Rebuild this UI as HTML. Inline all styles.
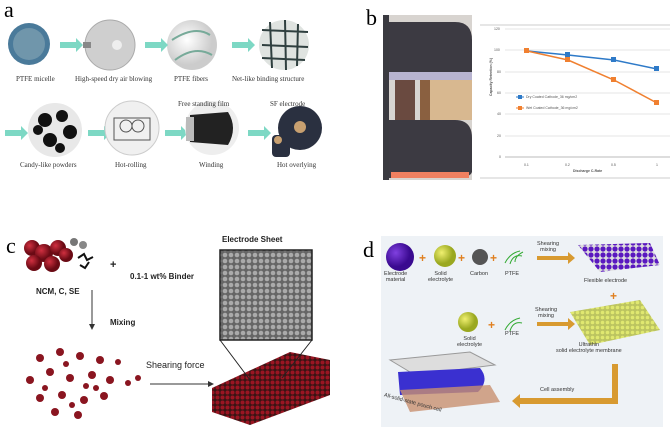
<!DOCTYPE html>
<html><head><meta charset="utf-8"><style>
body{margin:0;width:670px;height:428px;background:#fff;position:relative;overflow:hidden;font-family:"Liberation Serif",serif}
.t{position:absolute;white-space:nowrap}
.s{font-family:"Liberation Sans",sans-serif}
</style></head><body>
<svg width="670" height="428" style="position:absolute;left:0;top:0">
<defs>
<radialGradient id="rg" cx="35%" cy="35%"><stop offset="0" stop-color="#d03040"/><stop offset="1" stop-color="#6a0a14"/></radialGradient>
<radialGradient id="gg" cx="35%" cy="35%"><stop offset="0" stop-color="#f0f070"/><stop offset="1" stop-color="#9aa820"/></radialGradient>
<radialGradient id="pg" cx="35%" cy="35%"><stop offset="0" stop-color="#8040e0"/><stop offset="1" stop-color="#3a0a90"/></radialGradient>
<radialGradient id="cg" cx="40%" cy="40%"><stop offset="0" stop-color="#fff"/><stop offset="1" stop-color="#ccc"/></radialGradient>
<pattern id="sem" width="6" height="6" patternUnits="userSpaceOnUse"><rect width="6" height="6" fill="#666"/><circle cx="3" cy="3" r="2.3" fill="#aaa"/></pattern>
<pattern id="redp" width="5" height="5" patternUnits="userSpaceOnUse"><rect width="5" height="5" fill="#3a1414"/><circle cx="2.5" cy="2.5" r="2" fill="#9a1522"/></pattern>
<pattern id="purp" width="6" height="6" patternUnits="userSpaceOnUse"><rect width="6" height="6" fill="#ddd"/><circle cx="3" cy="3" r="2.6" fill="#5a18c0"/></pattern>
<pattern id="yelp" width="5" height="5" patternUnits="userSpaceOnUse"><rect width="5" height="5" fill="#bcc460"/><circle cx="2.5" cy="2.5" r="1.8" fill="#e0e870"/></pattern>
</defs>
<circle cx="29" cy="44" r="21" fill="#4a7a9a"/><circle cx="29" cy="44" r="16" fill="#8aa8b8" opacity=".6"/>
<circle cx="110" cy="45" r="25" fill="#cfcfcf" stroke="#aaa"/><circle cx="117" cy="45" r="5" fill="#eee"/><rect x="83" y="42" width="8" height="6" fill="#888"/>
<circle cx="192" cy="45" r="25" fill="url(#cg)"/><path d="M172 40 Q195 25 210 35 M175 60 Q195 45 212 55" stroke="#7a9" stroke-width="2" fill="none"/>
<circle cx="284" cy="45" r="25" fill="#dfe3e0"/><path d="M262 30 L308 32 M262 45 L308 47 M262 58 L305 60 M270 22 L272 68 M285 20 L286 70 M298 24 L297 66" stroke="#2f3f3f" stroke-width="2"/>
<g fill="#7dd8c4"><path d="M60 42h16v-4l7 7-7 7v-4H60z"/><path d="M145 42h16v-4l7 7-7 7v-4h-16z"/><path d="M232 42h16v-4l7 7-7 7v-4h-16z"/>
<path d="M5 130h16v-4l7 7-7 7v-4H5z"/><path d="M88 130h16v-4l7 7-7 7v-4H88z"/><path d="M165 130h16v-4l7 7-7 7v-4h-16z"/><path d="M248 130h16v-4l7 7-7 7v-4h-16z"/></g>
<circle cx="55" cy="130" r="27" fill="#e8e8e8"/><g fill="#111"><circle cx="45" cy="120" r="7"/><circle cx="62" cy="116" r="6"/><circle cx="70" cy="132" r="7"/><circle cx="50" cy="140" r="7"/><circle cx="38" cy="130" r="5"/><circle cx="60" cy="148" r="5"/></g>
<circle cx="132" cy="128" r="27" fill="#f0f0f0" stroke="#ccc"/><rect x="114" y="118" width="36" height="22" fill="none" stroke="#555"/><circle cx="126" cy="126" r="6" fill="none" stroke="#555"/><circle cx="138" cy="126" r="6" fill="none" stroke="#555"/>
<circle cx="212" cy="128" r="27" fill="#eee"/><path d="M190 115 L228 112 Q238 128 228 145 L190 142 Z" fill="#222"/><rect x="186" y="117" width="8" height="24" fill="#bbb"/>
<ellipse cx="300" cy="128" rx="22" ry="22" fill="#2a3040"/><circle cx="300" cy="127" r="6" fill="#c8a070"/><rect x="272" y="135" width="18" height="22" rx="4" fill="#2a3040"/><circle cx="278" cy="140" r="4" fill="#c8a070"/>
<rect x="383" y="15" width="89" height="165" fill="#d8d4d0"/>
<rect x="383" y="15" width="6" height="165" fill="#3a3a40"/>
<path d="M389 22 H455 Q472 22 472 40 V72 H389 Z" fill="#3c3a42"/>
<rect x="389" y="72" width="83" height="8" fill="#b8b4d0"/>
<rect x="395" y="80" width="20" height="40" fill="#6a4a40"/><rect x="420" y="80" width="10" height="40" fill="#8a6040"/><rect x="430" y="80" width="42" height="40" fill="#d8b890"/>
<path d="M389 120 H455 Q472 120 472 138 V172 Q470 178 455 178 H389 Z" fill="#3c3a42"/>
<rect x="391" y="172" width="78" height="6" fill="#f08060"/>
<line x1="480" y1="25" x2="670" y2="25" stroke="#ccc"/><line x1="480" y1="178" x2="670" y2="178" stroke="#ccc"/>
<g stroke="#e4e4e4"><line x1="505" y1="29" x2="670" y2="29"/><line x1="505" y1="50" x2="670" y2="50"/><line x1="505" y1="72" x2="670" y2="72"/><line x1="505" y1="93" x2="670" y2="93"/><line x1="505" y1="114" x2="670" y2="114"/><line x1="505" y1="136" x2="670" y2="136"/></g>
<line x1="505" y1="157" x2="670" y2="157" stroke="#bbb"/>
<polyline points="527,51 568,55 614,60 657,69" fill="none" stroke="#2e7ac8" stroke-width="1.5"/>
<polyline points="527,51 568,60 614,80 657,103" fill="none" stroke="#f08030" stroke-width="1.5"/>
<g fill="#2e7ac8"><rect x="565" y="52" width="5" height="5"/><rect x="611" y="57" width="5" height="5"/><rect x="654" y="66" width="5" height="5"/></g>
<g fill="#f08030"><rect x="524" y="48" width="5" height="5"/><rect x="565" y="57" width="5" height="5"/><rect x="611" y="77" width="5" height="5"/><rect x="654" y="100" width="5" height="5"/></g>
<line x1="516" y1="97" x2="524" y2="97" stroke="#2e7ac8"/><rect x="518" y="95" width="4" height="4" fill="#2e7ac8"/>
<line x1="516" y1="108" x2="524" y2="108" stroke="#f08030"/><rect x="518" y="106" width="4" height="4" fill="#f08030"/>
<g fill="url(#rg)"><circle cx="32" cy="248" r="8"/><circle cx="44" cy="253" r="9"/><circle cx="58" cy="248" r="8"/><circle cx="66" cy="255" r="7"/><circle cx="34" cy="263" r="8"/><circle cx="52" cy="264" r="8"/></g>
<circle cx="74" cy="242" r="4" fill="#777"/><circle cx="83" cy="245" r="4" fill="#888"/>
<path d="M78 258 l6 -4 l3 6 l6 -3 M80 265 l5 3 l4 -6" stroke="#111" stroke-width="2" fill="none"/>
<line x1="92" y1="290" x2="92" y2="328" stroke="#333"/><path d="M89 324 L92 330 L95 324" fill="#333"/>
<g fill="#8a1520"><circle cx="40" cy="358" r="4"/><circle cx="60" cy="352" r="4"/><circle cx="80" cy="356" r="4"/><circle cx="100" cy="360" r="4"/><circle cx="30" cy="380" r="4"/><circle cx="50" cy="372" r="4"/><circle cx="70" cy="378" r="4"/><circle cx="92" cy="375" r="4"/><circle cx="110" cy="380" r="4"/><circle cx="40" cy="398" r="4"/><circle cx="62" cy="395" r="4"/><circle cx="84" cy="400" r="4"/><circle cx="104" cy="396" r="4"/><circle cx="55" cy="412" r="4"/><circle cx="78" cy="415" r="4"/><circle cx="128" cy="383" r="3"/><circle cx="138" cy="378" r="3"/><circle cx="45" cy="388" r="3"/><circle cx="118" cy="362" r="3"/><circle cx="96" cy="388" r="3"/><circle cx="66" cy="364" r="3"/><circle cx="86" cy="386" r="3"/><circle cx="72" cy="405" r="3"/></g>
<line x1="150" y1="384" x2="210" y2="384" stroke="#333"/><path d="M208 381 L214 384 L208 387" fill="#333"/>
<rect x="220" y="250" width="92" height="90" fill="url(#sem)" stroke="#222" stroke-width="1.5"/>
<path d="M212 388 L290 352 L330 360 L330 395 L250 425 L212 412 Z" fill="url(#redp)"/>
<path d="M220 340 L250 380 M312 340 L282 378" stroke="#222"/>
<rect x="381" y="236" width="282" height="191" fill="#eef2f6"/>
<circle cx="400" cy="257" r="14" fill="url(#pg)"/>
<circle cx="445" cy="256" r="11" fill="url(#gg)"/>
<circle cx="480" cy="257" r="8" fill="#555"/>
<path d="M505 263 q5 -10 15 -12 M510 264 q3 -10 12 -8 M515 262 q0 -6 8 -10" stroke="#3a3" fill="none"/>
<g fill="#e08020" font-family="Liberation Sans" font-size="12" font-weight="bold"><text x="419" y="262">+</text><text x="458" y="262">+</text><text x="490" y="262">+</text><text x="488" y="329">+</text><text x="610" y="300">+</text></g>
<path d="M537 256 H568 v-4 l7 6 -7 6 v-4 H537 Z" fill="#d89a30"/>
<path d="M537 322 H568 v-4 l7 6 -7 6 v-4 H537 Z" fill="#d89a30"/>
<path d="M578 245 L650 243 L660 265 L600 272 Z" fill="url(#purp)"/>
<path d="M570 312 L640 300 L660 330 L590 345 Z" fill="url(#yelp)"/>
<circle cx="468" cy="322" r="10" fill="url(#gg)"/>
<path d="M505 330 q5 -10 15 -12 M510 331 q3 -10 12 -8" stroke="#3a3" fill="none"/>
<path d="M612 364 V398 H520 v-4 l-8 7 8 7 v-4 H618 V364 Z" fill="#d89a30"/>
<path d="M390 360 L470 352 L495 365 L415 375 Z" fill="#ddd" stroke="#999"/>
<path d="M398 372 L480 368 Q490 380 478 392 L400 395 Z" fill="#3a30d0"/>
<path d="M400 390 L490 385 L500 402 L410 412 Z" fill="#c89070" opacity=".8"/>
</svg>
<div class="t" style="left:4px;top:-3px;font-size:22px">a</div>
<div class="t" style="left:366px;top:5px;font-size:22px">b</div>
<div class="t" style="left:6px;top:233px;font-size:22px">c</div>
<div class="t" style="left:363px;top:237px;font-size:22px">d</div>
<div style="font-size:7px;color:#333">
<div class="t" style="left:16px;top:75px">PTFE micelle</div>
<div class="t" style="left:75px;top:75px">High-speed dry air blowing</div>
<div class="t" style="left:174px;top:75px">PTFE fibers</div>
<div class="t" style="left:232px;top:75px">Net-like binding structure</div>
<div class="t" style="left:178px;top:100px">Free standing film</div>
<div class="t" style="left:270px;top:100px">SF electrode</div>
<div class="t" style="left:20px;top:161px">Candy-like powders</div>
<div class="t" style="left:115px;top:161px">Hot-rolling</div>
<div class="t" style="left:199px;top:161px">Winding</div>
<div class="t" style="left:277px;top:161px">Hot overlying</div>
</div>
<div class="s" style="font-size:3.5px;color:#555">
<div class="t" style="left:494px;top:27px">120</div><div class="t" style="left:494px;top:48px">100</div><div class="t" style="left:497px;top:70px">80</div><div class="t" style="left:497px;top:91px">60</div><div class="t" style="left:497px;top:112px">40</div><div class="t" style="left:497px;top:134px">20</div><div class="t" style="left:499px;top:155px">0</div>
<div class="t" style="left:524px;top:163px">0.1</div><div class="t" style="left:565px;top:163px">0.2</div><div class="t" style="left:611px;top:163px">0.5</div><div class="t" style="left:656px;top:163px">1</div>
<div class="t" style="left:573px;top:169px;font-weight:bold">Discharge C-Rate</div>
<div class="t" style="left:526px;top:95px">Dry Coated Cathode_36 mg/cm2</div>
<div class="t" style="left:526px;top:106px">Wet Coated Cathode_36 mg/cm2</div>
<div class="t" style="left:472px;top:75px;transform:rotate(-90deg);font-weight:bold">Capacity Retention (%)</div>
</div>
<div class="s" style="font-weight:bold;font-size:8px;color:#222">
<div class="t" style="left:36px;top:287px">NCM, C, SE</div>
<div class="t" style="left:110px;top:259px;font-size:11px">+</div>
<div class="t" style="left:130px;top:272px">0.1-1 wt% Binder</div>
<div class="t" style="left:110px;top:318px">Mixing</div>
<div class="t" style="left:146px;top:360px;font-weight:normal;font-size:9px">Shearing force</div>
<div class="t" style="left:222px;top:235px">Electrode Sheet</div>
</div>
<div class="s" style="font-size:5.5px;color:#333;text-align:center">
<div class="t" style="left:384px;top:271px">Electrode<br>material</div>
<div class="t" style="left:428px;top:271px">Solid<br>electrolyte</div>
<div class="t" style="left:470px;top:271px">Carbon</div>
<div class="t" style="left:505px;top:271px">PTFE</div>
<div class="t" style="left:537px;top:241px">Shearing<br>mixing</div>
<div class="t" style="left:584px;top:278px">Flexible electrode</div>
<div class="t" style="left:457px;top:336px">Solid<br>electrolyte</div>
<div class="t" style="left:505px;top:331px">PTFE</div>
<div class="t" style="left:535px;top:307px">Shearing<br>mixing</div>
<div class="t" style="left:556px;top:342px">Ultrathin<br>solid electrolyte membrane</div>
<div class="t" style="left:540px;top:387px">Cell assembly</div>
<div class="t" style="left:383px;top:400px;transform:rotate(15deg)">All-solid-state pouch cell</div>
</div>
</body></html>
